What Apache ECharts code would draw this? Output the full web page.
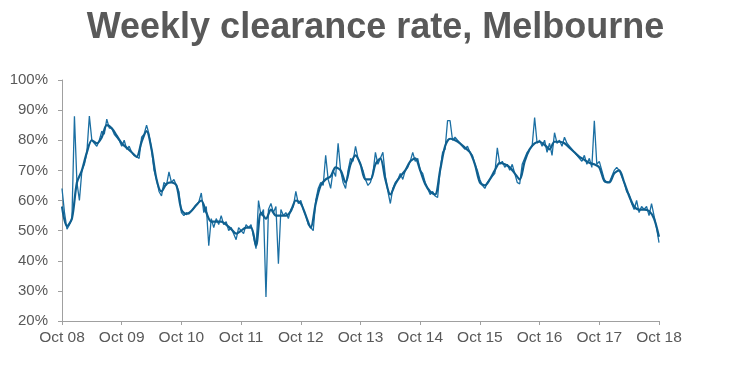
<!DOCTYPE html>
<html>
<head>
<meta charset="utf-8">
<script src="https://cdn.jsdelivr.net/npm/echarts@6/dist/echarts.min.js"></script>
<style>
html,body{margin:0;padding:0;background:#fff;}
#c{width:751px;height:375px;}
</style>
</head>
<body>
<div id="c"></div>
<script>
// Tick labels on the x axis (one per year, Oct 2008 .. Oct 2018)
const tickLabels = ["Oct 08","Oct 09","Oct 10","Oct 11","Oct 12","Oct 13","Oct 14","Oct 15","Oct 16","Oct 17","Oct 18"];

// Weekly clearance rate (%) read at half-month steps from Oct 2008
const weeklyRate = [
  64,56,50.5,52,54,88,66,60,70,72,76,88,80,79,78,80,83,82,87,84,84,82,81,80,
  78,80,77,78,76,75,74.5,74,81,82,85,82,77,70,67,63,61.5,66,65,69.5,66,67,65,63,
  56,55,56,55.5,56.5,57.5,58.5,59.5,62.5,56,58,45,54,51,54,52,55,52,53,50,51,49,47,51,
  50,49,52,51,52,48,44,60,55,57,28,57,59,56,58,39,57,55,56,54,57,58,63,59,
  60,57,55,52,51,50,60,64,66,65,75,67,64,70,68,79,70,66,64,70,74,73,78,74,
  72,70,67,65,66,69,76,72,74,76,68,63,59,64,66,67,69,67,70,71,73,76,73,74,
  70,69,66,64,62,63,61.5,61,70,76,77,86.5,86.5,80,81,80,79,78,77,78,76,75,72,70,
  67,65,64,66,67,68,69,77.5,72,73,71,72,70,72,69,66,65.5,72,74,76,77,78,87.5,79,
  80,78,80,76,79,75,82.5,79,80,78,81,79,78,77,76,75,74,73,75,72,74,71,86.5,72,
  73,70,67,66,66,68,70,71,70,68,66,63,62,59,57,60,56,58,57,58,55,59,55,51,46
];

// Smoothed clearance rate (%) read at monthly steps from Oct 2008
const smoothedRate = [
  58,51.5,54,66,70,76,80,79,81,85,84,81.5,
  79,77.5,76,74.5,79.5,83,77,67,63,65.5,66,65,
  57,55.5,56.5,58.5,60,56,53,53,53,52,50.5,49,
  50,51,51,45,56,54,57,55,55,55,56.5,60,
  59,55,51,59,65,67,68,71,70,66,72,75,
  72,67,67,72,74,67,62,65.5,68,70,73,74,
  70,65.5,63,62,70,78,80.5,80,79,77.5,76,72,
  66,65,67,70,72.5,72,71,69,67,73,77,79,
  79.5,78.5,77,79.5,79.5,79,77.5,76,74.5,73.5,72.5,72,
  71,66.5,66,69,70,66,61.5,58,57,57,56.5,54,48
];

const weeklyData = weeklyRate.map((v, i) => [i / 24, v]);
const smoothData = smoothedRate.map((v, i) => [i / 12, v]);

const chart = echarts.init(document.getElementById('c'), null, {renderer: 'canvas'});
const axisColor = '#a0a0a0';
const textColor = '#595959';
const font = '"Liberation Sans", Arial, sans-serif';

chart.setOption({
  backgroundColor: '#ffffff',
  animation: false,
  title: {
    text: 'Weekly clearance rate, Melbourne',
    left: 'center',
    top: 5,
    textStyle: {fontSize: 36, fontWeight: 'bold', color: textColor, fontFamily: font}
  },
  grid: {left: 62, right: 92, top: 80, bottom: 54, containLabel: false},
  xAxis: {
    type: 'value',
    min: 0, max: 10, interval: 1,
    axisLine: {show: true, lineStyle: {color: axisColor, width: 1}},
    axisTick: {show: true, length: 4, lineStyle: {color: axisColor}},
    splitLine: {show: false},
    axisLabel: {
      color: textColor, fontSize: 15.5, fontFamily: font, margin: 9,
      formatter: v => tickLabels[Math.round(v)] || ''
    }
  },
  yAxis: {
    type: 'value',
    min: 20, max: 100, interval: 10,
    axisLine: {show: true, lineStyle: {color: axisColor, width: 1}},
    axisTick: {show: true, length: 4, lineStyle: {color: axisColor}},
    splitLine: {show: false},
    axisLabel: {color: textColor, fontSize: 15, fontFamily: font, margin: 14, formatter: '{value}%'}
  },
  series: [
    {
      type: 'line', data: weeklyData, symbol: 'none',
      lineStyle: {color: '#1b6fa3', width: 1.3}
    },
    {
      type: 'line', data: smoothData, symbol: 'none', smooth: 0.3,
      lineStyle: {color: '#0f5f8f', width: 2.2}
    }
  ]
});
</script>
</body>
</html>
